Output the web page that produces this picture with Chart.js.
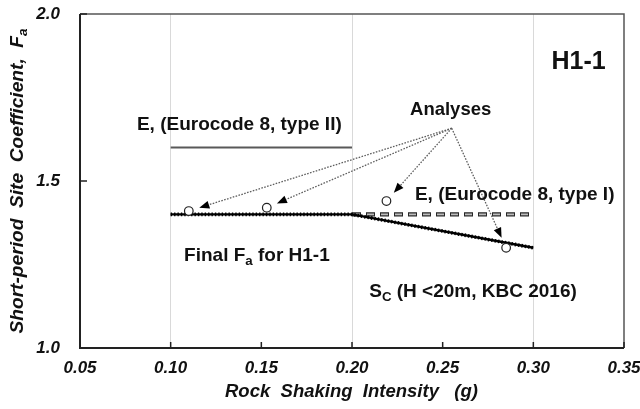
<!DOCTYPE html>
<html>
<head>
<meta charset="utf-8">
<script src="https://cdn.jsdelivr.net/npm/chart.js@4.4.1/dist/chart.umd.min.js"></script>
<style>
  html, body { margin: 0; padding: 0; background: #fff; }
  #wrap { width: 640px; height: 409px; position: relative; }
</style>
</head>
<body>
<div id="wrap"><canvas id="chartFa"></canvas></div>
<script>
// ------------------------
// Data
// ------------------------
const xTicks = [0.05, 0.10, 0.15, 0.20, 0.25, 0.30, 0.35];
const yTicks = [1.0, 1.5, 2.0];
const gridX = [0.10, 0.20, 0.30];

// E, Eurocode 8 type II
const ec8TypeIIx = [0.10, 0.20];
const ec8TypeIIy = [1.6, 1.6];
// E, Eurocode 8 type I
const ec8TypeIx = [0.20, 0.30];
const ec8TypeIy = [1.4, 1.4];
// S_C, KBC 2016
const kbcX = [0.10, 0.20, 0.30];
const kbcY = [1.4, 1.4, 1.3];
// final Fa for H1-1
const finalX = [0.10, 0.20, 0.30];
const finalY = [1.4, 1.4, 1.3];
// analyses
const analysesX = [0.110, 0.153, 0.219, 0.285];
const analysesY = [1.41, 1.42, 1.44, 1.30];

const FAMILY = 'Arial, "Liberation Sans", sans-serif';
const TEXT = '#111';

const toPts = (xs, ys) => xs.map((x, i) => ({ x: x, y: ys[i] }));

// text with optional subscript pieces
function richWidth(ctx, parts, size, style) {
    let w = 0;
    parts.forEach(p => {
        ctx.font = `${style} ${p.sub ? size * 0.7 : size}px ${FAMILY}`;
        w += ctx.measureText(p.t).width;
    });
    return w;
}
function drawRich(ctx, parts, x, y, size, style) {
    let cx = x;
    parts.forEach(p => {
        const fs = p.sub ? size * 0.7 : size;
        ctx.font = `${style} ${fs}px ${FAMILY}`;
        ctx.fillText(p.t, cx, p.sub ? y + size * 0.22 : y);
        cx += ctx.measureText(p.t).width;
    });
}
// axis titles are spread out to a given width
function drawSpread(ctx, parts, cx, cy, width, size, rotate) {
    ctx.save();
    ctx.translate(cx, cy);
    if (rotate) ctx.rotate(-Math.PI / 2);
    const natural = richWidth(ctx, parts, size, 'italic bold');
    ctx.scale(width / natural, 1);
    drawRich(ctx, parts, -natural / 2, 0, size, 'italic bold');
    ctx.restore();
}

// annotation anchors, in data units
const labels = [
    { parts: [{ t: 'H1-1' }], x: 0.310, y: 1.834, size: 25 },
    { parts: [{ t: 'Analyses' }], x: 0.232, y: 1.698, size: 18.5 },
    { parts: [{ t: 'E, (Eurocode 8, type II)' }], x: 0.0814, y: 1.653, size: 19 },
    { parts: [{ t: 'E, (Eurocode 8, type I)' }], x: 0.2347, y: 1.443, size: 19 },
    { parts: [{ t: 'Final F' }, { t: 'a', sub: true }, { t: ' for H1-1' }], x: 0.1074, y: 1.261, size: 19 },
    { parts: [{ t: 'S' }, { t: 'C', sub: true }, { t: ' (H <20m, KBC 2016)' }], x: 0.2095, y: 1.154, size: 19 }
];
const arrowFrom = { x: 0.255, y: 1.658 };

const decorations = {
    id: 'decorations',
    afterDatasetsDraw(chart) {
        const { ctx, chartArea: a } = chart;
        const xs = chart.scales.x, ys = chart.scales.y;
        ctx.save();

        // frame
        ctx.lineWidth = 1.5;
        ctx.strokeStyle = '#555';
        ctx.beginPath();
        ctx.moveTo(a.left, a.top); ctx.lineTo(a.right, a.top); ctx.lineTo(a.right, a.bottom);
        ctx.stroke();
        ctx.lineWidth = 2;
        ctx.strokeStyle = '#222';
        ctx.beginPath();
        ctx.moveTo(a.left, a.top); ctx.lineTo(a.left, a.bottom); ctx.lineTo(a.right, a.bottom);
        ctx.stroke();

        // inward tick marks
        ctx.lineWidth = 1.5;
        ctx.beginPath();
        xTicks.forEach(v => {
            const px = xs.getPixelForValue(v);
            ctx.moveTo(px, a.bottom); ctx.lineTo(px, a.bottom - 6);
        });
        yTicks.forEach(v => {
            const py = ys.getPixelForValue(v);
            ctx.moveTo(a.left, py); ctx.lineTo(a.left + 7, py);
        });
        ctx.stroke();

        // arrows from "Analyses" to each point
        const sx = xs.getPixelForValue(arrowFrom.x), sy = ys.getPixelForValue(arrowFrom.y);
        analysesX.forEach((v, i) => {
            const cx = xs.getPixelForValue(v), cy = ys.getPixelForValue(analysesY[i]);
            const dx = cx - sx, dy = cy - sy, len = Math.hypot(dx, dy);
            const ux = dx / len, uy = dy / len;
            const tx = cx - ux * 11, ty = cy - uy * 11;
            const head = 10, half = 4;
            ctx.setLineDash([1.6, 1.4]);
            ctx.strokeStyle = '#5f5f5f';
            ctx.lineWidth = 1.3;
            ctx.beginPath();
            ctx.moveTo(sx, sy);
            ctx.lineTo(tx - ux * head, ty - uy * head);
            ctx.stroke();
            ctx.setLineDash([]);
            ctx.fillStyle = '#000';
            ctx.beginPath();
            ctx.moveTo(tx, ty);
            ctx.lineTo(tx - ux * head - uy * half, ty - uy * head + ux * half);
            ctx.lineTo(tx - ux * head + uy * half, ty - uy * head - ux * half);
            ctx.closePath();
            ctx.fill();
        });

        ctx.restore();
    },
    afterDraw(chart) {
        const { ctx, chartArea: a } = chart;
        const xs = chart.scales.x, ys = chart.scales.y;
        ctx.save();
        ctx.fillStyle = TEXT;
        ctx.textBaseline = 'alphabetic';
        ctx.textAlign = 'left';

        labels.forEach(l => {
            drawRich(ctx, l.parts, xs.getPixelForValue(l.x), ys.getPixelForValue(l.y), l.size, 'bold');
        });

        // axis titles
        drawSpread(ctx, [{ t: 'Rock  Shaking  Intensity   (g)' }],
            (a.left + a.right) / 2 - 0.5, 397, 253, 17.5, false);
        drawSpread(ctx, [{ t: 'Short-period  Site  Coefficient,  F' }, { t: 'a', sub: true }],
            23, (a.top + a.bottom) / 2, 305, 17.5, true);

        ctx.restore();
    }
};

const tickFont = { family: FAMILY, size: 17, style: 'italic', weight: 'bold' };

new Chart(document.getElementById('chartFa'), {
    type: 'scatter',
    data: {
        datasets: [
            {
                label: 'Analyses', data: toPts(analysesX, analysesY), showLine: false,
                pointRadius: 4.3, pointBorderWidth: 1.2, pointBorderColor: '#222',
                pointBackgroundColor: '#fff', order: 0
            },
            {
                label: 'Final Fa for H1-1', data: toPts(finalX, finalY), showLine: true,
                borderColor: '#000', borderWidth: 2.4, pointRadius: 0, order: 1
            },
            {
                label: 'SC (H <20m, KBC 2016)', data: toPts(kbcX, kbcY), showLine: true,
                borderColor: '#000', borderWidth: 3.6, borderDash: [1.4, 2], pointRadius: 0, order: 2
            },
            {
                label: 'E, (Eurocode 8, type I)', data: toPts(ec8TypeIx, ec8TypeIy), showLine: true,
                borderColor: '#bdbdbd', borderWidth: 1.8, borderDash: [7, 7], borderDashOffset: -1,
                pointRadius: 0, order: 3
            },
            {
                label: 'E, (Eurocode 8, type I) outline', data: toPts(ec8TypeIx, ec8TypeIy), showLine: true,
                borderColor: '#262626', borderWidth: 4.2, borderDash: [9, 5], pointRadius: 0, order: 4
            },
            {
                label: 'E, (Eurocode 8, type II)', data: toPts(ec8TypeIIx, ec8TypeIIy), showLine: true,
                borderColor: '#595959', borderWidth: 2, pointRadius: 0, order: 5
            }
        ]
    },
    options: {
        responsive: true,
        maintainAspectRatio: false,
        animation: false,
        layout: { padding: { top: 14, right: 16, left: 0, bottom: 0 } },
        plugins: { legend: { display: false }, tooltip: { enabled: false } },
        scales: {
            x: {
                type: 'linear', min: 0.05, max: 0.35,
                afterBuildTicks: s => { s.ticks = xTicks.map(v => ({ value: v })); },
                afterFit: s => { s.height = 61; s.paddingLeft = 0; s.paddingRight = 0; },
                ticks: {
                    callback: v => v.toFixed(2), font: tickFont, color: TEXT,
                    padding: 10, maxRotation: 0, autoSkip: false
                },
                grid: {
                    drawTicks: false, lineWidth: 1,
                    color: c => (c.tick && gridX.some(g => Math.abs(g - c.tick.value) < 1e-9)) ? '#d9d9d9' : 'rgba(0,0,0,0)'
                },
                border: { display: false }
            },
            y: {
                type: 'linear', min: 1.0, max: 2.0,
                afterBuildTicks: s => { s.ticks = yTicks.map(v => ({ value: v })); },
                afterFit: s => { s.width = 80; s.paddingTop = 0; s.paddingBottom = 0; },
                ticks: { callback: v => v.toFixed(1), font: tickFont, color: TEXT, padding: 20 },
                grid: { display: false, drawTicks: false },
                border: { display: false }
            }
        }
    },
    plugins: [decorations]
});
</script>
</body>
</html>
